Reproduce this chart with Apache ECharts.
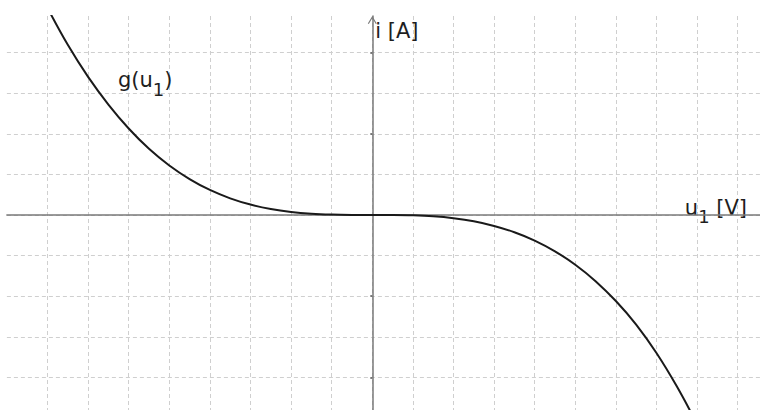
<!DOCTYPE html>
<html>
<head>
<meta charset="utf-8">
<title>g(u1)</title>
<script src="https://cdn.jsdelivr.net/npm/echarts@6/dist/echarts.min.js"></script>
<style>
  html, body { margin: 0; padding: 0; background: #ffffff; }
  #chart { width: 760px; height: 410px; }
</style>
</head>
<body>
<div id="chart"></div>
<script>
// Characteristic i = g(u1), one grid cell = one unit on each axis
const voltage = [-8, -7.5, -7, -6.5, -6, -5.5, -5, -4.5, -4, -3.5, -3, -2.5, -2, -1.5, -1, -0.5,
                 0, 0.5, 1, 1.5, 2, 2.5, 3, 3.5, 4, 4.5, 5, 5.5, 6, 6.5, 7, 7.5, 8];
const current = [5.10, 4.19, 3.40, 2.72, 2.13, 1.63, 1.22, 0.885, 0.616, 0.41, 0.256, 0.146, 0.074, 0.031, 0.0094, 0.0014,
                 0, -0.0013, -0.0095, -0.033, -0.08, -0.155, -0.27, -0.425, -0.63, -0.895, -1.225, -1.63, -2.12, -2.70, -3.40, -4.22, -5.15];
// small marks on the current axis
const currentTicks = [-4, -2, 2, 4];

const curveName = 'g(u1)';

const FONT = 'DejaVu Sans';
const TEXT = '#1e1e1e';
const gridStyle = { color: '#cfcfcf', width: 1, type: [4, 3] };
const axisStyle = { color: '#7a7a7a', width: 1.5 };

const Y_MIN = -5, Y_MAX = 4.9;

const points = voltage.map((u, k) => [u, current[k]]);

const chart = echarts.init(document.getElementById('chart'), null, { renderer: 'svg' });

chart.setOption({
  animation: false,
  backgroundColor: '#ffffff',
  grid: { left: 6.9, right: 0, top: 16, bottom: -8, containLabel: false, outerBoundsMode: 'none' },
  xAxis: {
    type: 'value',
    min: -9,
    max: 9.55,
    interval: 1,
    name: '{b|u}{s|1}{b| [V]}',
    nameLocation: 'end',
    nameGap: -13,
    nameTextStyle: {
      align: 'right',
      verticalAlign: 'middle',
      fontFamily: FONT,
      color: TEXT,
      rich: {
        b: { fontSize: 21, fontFamily: FONT, color: TEXT, lineHeight: 24, padding: [0, 0, 13, 0], verticalAlign: 'middle' },
        s: { fontSize: 18, fontFamily: FONT, color: TEXT, lineHeight: 20, padding: [4, 0, 0, 0], verticalAlign: 'middle' }
      }
    },
    axisLine: { onZero: true, lineStyle: axisStyle },
    axisTick: { show: false },
    axisLabel: { show: false },
    splitLine: { show: true, showMinLine: false, lineStyle: gridStyle }
  },
  yAxis: [{
    // current axis: line, arrow, name, ticks
    type: 'value',
    min: Y_MIN,
    max: Y_MAX,
    name: '{b|i [A]}',
    nameLocation: 'end',
    nameGap: -15,
    nameTextStyle: {
      align: 'left',
      verticalAlign: 'middle',
      fontFamily: FONT,
      color: TEXT,
      rich: {
        b: { fontSize: 21, fontFamily: FONT, color: TEXT, lineHeight: 24, padding: [0, 0, 0, 3], verticalAlign: 'middle' }
      }
    },
    axisLine: {
      onZero: true,
      lineStyle: axisStyle,
      symbol: ['none', 'path://M0,7.4 L4.5,0 L9,7.4 L8,8 L4.5,2.2 L1,8 Z'],
      symbolSize: [9, 8],
      symbolOffset: [0, -4]
    },
    axisTick: { show: true, length: 2, customValues: currentTicks, lineStyle: { color: '#555', width: 1.5 } },
    axisLabel: { show: false },
    splitLine: { show: false }
  }, {
    // horizontal grid lines, one per unit
    type: 'value',
    min: Y_MIN,
    max: Y_MAX,
    interval: 1,
    axisLine: { show: false },
    axisTick: { show: false },
    axisLabel: { show: false },
    splitLine: { show: true, showMaxLine: false, lineStyle: gridStyle }
  }],
  graphic: [{
    type: 'text',
    x: 118,
    y: 80,
    z: 10,
    style: {
      text: '{b|g(u}{s|1}{b|)}',
      fontFamily: FONT,
      verticalAlign: 'middle',
      align: 'left',
      fill: TEXT,
      rich: {
        b: { fontSize: 21, fontFamily: FONT, fill: TEXT, lineHeight: 24, verticalAlign: 'middle' },
        s: { fontSize: 18, fontFamily: FONT, fill: TEXT, lineHeight: 20, padding: [18, 0, 0, 0], verticalAlign: 'middle' }
      }
    }
  }],
  series: [{
    name: curveName,
    type: 'line',
    yAxisIndex: 0,
    data: points,
    showSymbol: false,
    smooth: 0.4,
    clip: true,
    lineStyle: { color: '#1a1a1a', width: 2 },
    z: 5
  }]
});
</script>
</body>
</html>
